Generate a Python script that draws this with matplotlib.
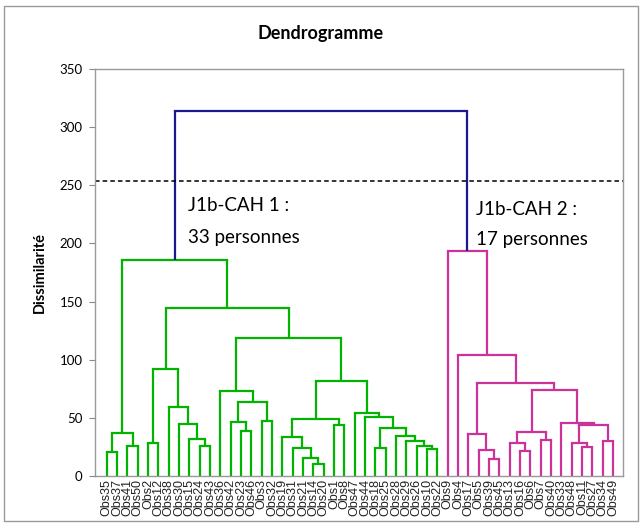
import numpy as np
import matplotlib
matplotlib.use("Agg")
from matplotlib import pyplot as plt
from matplotlib.patches import Rectangle

# leaf order as shown on the x axis
leaves = ['Obs35', 'Obs37', 'Obs41', 'Obs50', 'Obs2', 'Obs12', 'Obs38', 'Obs30', 'Obs15', 'Obs24',
          'Obs43', 'Obs36', 'Obs42', 'Obs23', 'Obs46', 'Obs3', 'Obs32', 'Obs19', 'Obs31', 'Obs21',
          'Obs14', 'Obs20', 'Obs1', 'Obs8', 'Obs47', 'Obs44', 'Obs18', 'Obs25', 'Obs28', 'Obs29',
          'Obs26', 'Obs10', 'Obs22',
          'Obs9', 'Obs4', 'Obs17', 'Obs5', 'Obs39', 'Obs45', 'Obs13', 'Obs16', 'Obs6', 'Obs7',
          'Obs40', 'Obs33', 'Obs48', 'Obs11', 'Obs27', 'Obs34', 'Obs49']
group1_size = 33

# merges: child ids (0-49 = leaves, 50+k = merge k) and height
merge_a = [0, 2, 50, 4, 9, 8, 7, 6, 53, 13, 12, 15, 60, 11, 20, 19, 18, 17, 22, 67,
           31, 30, 29, 28, 26, 74, 25, 24, 69, 63, 58, 52,
           37, 36, 35, 40, 39, 42, 86, 46, 45, 48, 90, 44, 88, 84, 34, 33, 81]
merge_b = [1, 3, 51, 5, 10, 54, 55, 56, 57, 14, 59, 16, 61, 62, 21, 64, 65, 66, 23, 68,
           32, 70, 71, 72, 27, 73, 75, 76, 77, 78, 79, 80,
           38, 82, 83, 41, 85, 43, 87, 47, 89, 49, 91, 92, 93, 94, 95, 96, 97]
merge_h = [21, 26, 36.7, 28, 26, 31.8, 44.7, 59, 92, 38.7, 46.1, 47.3, 63.9, 73.4, 10, 15.2,
           23.8, 33.8, 43.6, 49, 23, 25.8, 30.1, 34.4, 24.4, 41.3, 51, 53.9, 81.7, 118.4,
           144.2, 185.7,
           14.9, 22.4, 36.1, 21.8, 28.7, 31, 38.1, 25.2, 28.7, 30.4, 43.9, 45.9, 73.9, 79.7,
           104, 193.7, 313.8]

cut_level = 254
yticks = [0, 50, 100, 150, 200, 250, 300, 350]

green = '#00B400'
magenta = '#CC3399'
navy = '#1A1A8C'

n = len(leaves)
pos = {i: float(i) for i in range(n)}
hgt = {i: 0.0 for i in range(n)}
members = {i: {i} for i in range(n)}

fig = plt.figure(figsize=(6.42, 5.23), dpi=100)
ax = fig.add_axes([95/642, 47/523, 528/642, 407/523])

for k in range(len(merge_h)):
    a, b, h = merge_a[k], merge_b[k], merge_h[k]
    node = n + k
    members[node] = members[a] | members[b]
    if max(members[node]) < group1_size:
        col = green
    elif min(members[node]) >= group1_size:
        col = magenta
    else:
        col = navy
    for c in (a, b):
        ax.plot([pos[c], pos[c]], [hgt[c], h], color=col, lw=1.6, solid_capstyle='butt')
    ax.plot([pos[a], pos[b]], [h, h], color=col, lw=1.6, solid_capstyle='projecting')
    pos[node] = (pos[a] + pos[b]) / 2
    hgt[node] = h

ax.axhline(cut_level, color='black', ls=(0, (3, 2)), lw=1.1)

ax.text(7.9, 233, 'J1b-CAH 1 :', fontsize=13.5, family='Lato', va='center')
ax.text(7.9, 205, '33 personnes', fontsize=13.5, family='Lato', va='center')
ax.text(35.75, 229, 'J1b-CAH 2 :', fontsize=13.5, family='Lato', va='center')
ax.text(35.75, 203, '17 personnes', fontsize=13.5, family='Lato', va='center')

ax.set_xlim(-1.13, 49.98)
ax.set_ylim(0, 350)
ax.set_yticks(yticks)
ax.set_yticklabels([str(t) for t in yticks], family='Lato', fontsize=9.5)
ax.set_xticks(range(n))
ax.set_xticklabels(leaves, rotation=90, family='Liberation Sans', fontsize=9, color='#222222')
ax.tick_params(axis='x', length=0, pad=2)
ax.tick_params(axis='y', length=4, color='#888888', pad=5)
for s in ax.spines.values():
    s.set_color('#999999')
    s.set_linewidth(1)

ax.set_ylabel('Dissimilarité', family='Lato', fontsize=10.5, fontweight='bold', labelpad=9)
fig.text(0.5, 1 - 33/523, 'Dendrogramme', ha='center', va='center', family='Lato',
         fontsize=13, fontweight='bold')

fig.patches.append(Rectangle((4/642, 2/523), 634/642, 515/523, transform=fig.transFigure,
                             fill=False, edgecolor='#999999', lw=1))

plt.savefig('out.png', dpi=100)
